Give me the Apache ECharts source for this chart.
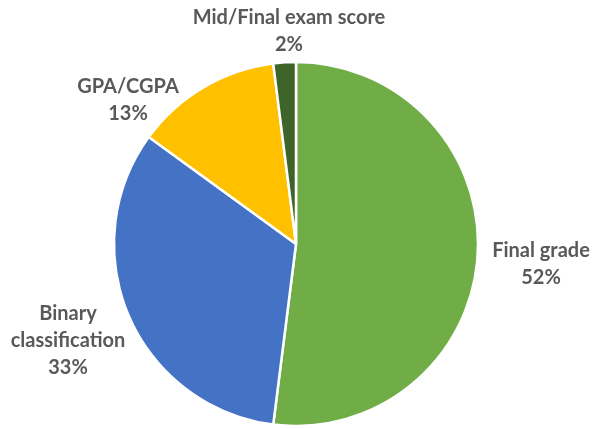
<!DOCTYPE html>
<html>
<head>
<meta charset="utf-8">
<script src="https://cdn.jsdelivr.net/npm/echarts@6/dist/echarts.min.js"></script>
<style>
  html, body { margin: 0; padding: 0; background: #fff; }
  #chart { width: 595px; height: 429px; }
</style>
</head>
<body>
<div id="chart"></div>
<script>
var categories = ['Final grade', 'Binary classification', 'GPA/CGPA', 'Mid/Final exam score'];
var shares = [52, 33, 13, 2];
var colors = ['#70AD47', '#4472C4', '#FFC000', '#3E6429'];
var labelText = ['Final grade', 'Binary\nclassification', 'GPA/CGPA', 'Mid/Final exam score'];
// label centres, in px
var labelPos = [[541, 264], [68, 341], [128, 100], [289, 31]];

var data = [];
for (var i = 0; i < categories.length; i++) {
    data.push({ name: categories[i], value: shares[i], itemStyle: { color: colors[i] } });
}

var myChart = echarts.init(document.getElementById('chart'));
var option = {
    animation: false,
    series: [{
        type: 'pie',
        center: [296, 244],
        radius: 182,
        startAngle: 90,
        clockwise: true,
        data: data,
        itemStyle: { borderColor: '#fff', borderWidth: 2.5 },
        label: {
            show: true,
            position: 'outside',
            overflow: 'none',
            color: '#595959',
            fontFamily: 'Lato',
            fontSize: 20,
            fontWeight: 'bold',
            lineHeight: 27,
            align: 'center',
            formatter: function (p) {
                return labelText[p.dataIndex] + '\n' + p.value + '%';
            }
        },
        labelLine: { show: false },
        labelLayout: function (p) {
            return {
                x: labelPos[p.dataIndex][0],
                y: labelPos[p.dataIndex][1],
                align: 'center',
                verticalAlign: 'middle'
            };
        }
    }]
};
myChart.setOption(option);
</script>
</body>
</html>
